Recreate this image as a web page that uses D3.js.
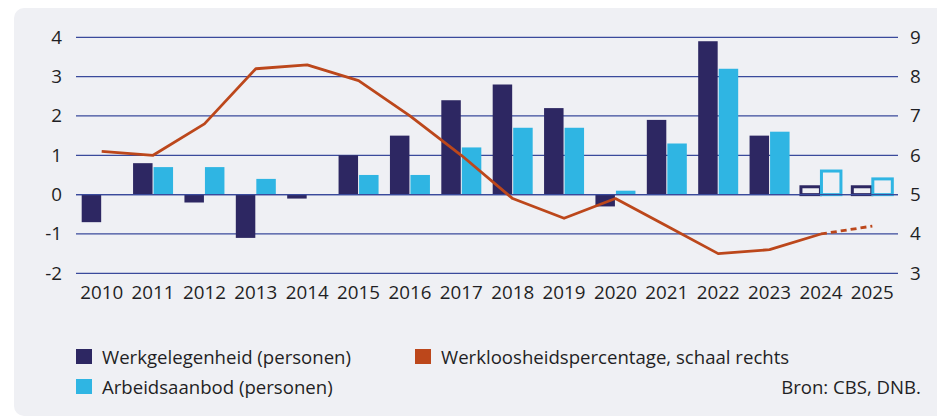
<!DOCTYPE html>
<html>
<head>
<meta charset="utf-8">
<script src="https://cdn.jsdelivr.net/npm/d3@7"></script>
<style>
  html, body { margin: 0; padding: 0; background: #ffffff; }
  svg { display: block; }
  text { font-family: "Open Sans", "Noto Sans", sans-serif; fill: #1f1f24; }
</style>
</head>
<body>
<svg id="chart"></svg>
<script>
// data
const years = ["2010", "2011", "2012", "2013", "2014", "2015", "2016", "2017",
  "2018", "2019", "2020", "2021", "2022", "2023", "2024", "2025"];
const werkgelegenheid = [-0.7, 0.8, -0.2, -1.1, -0.1, 1.0, 1.5, 2.4,
  2.8, 2.2, -0.3, 1.9, 3.9, 1.5, 0.2, 0.2];
const arbeidsaanbod = [0, 0.7, 0.7, 0.4, 0, 0.5, 0.5, 1.2,
  1.7, 1.7, 0.1, 1.3, 3.2, 1.6, 0.6, 0.4];
const werkloosheid = [6.1, 6.0, 6.8, 8.2, 8.3, 7.9, 7.0, 6.0,
  4.9, 4.4, 4.9, 4.2, 3.5, 3.6, 4.0, 4.2];
const forecastYears = ["2024", "2025"];
const leftTicks = [-2, -1, 0, 1, 2, 3, 4];
const rightTicks = [3, 4, 5, 6, 7, 8, 9];

const width = 937, height = 418;
const colDark = "#2d2762", colLight = "#2fb5e3", colLine = "#bc471b";
const colGrid = "#3a4a9b";
const font = "'Open Sans', 'Noto Sans', sans-serif";

const svg = d3.select("#chart").attr("width", width).attr("height", height);

// panel background
svg.append("rect")
  .attr("x", 14).attr("y", 8)
  .attr("width", 940).attr("height", 408)
  .attr("rx", 10)
  .attr("fill", "#eff0f4");

const x = d3.scaleBand().domain(years).range([76, 898]).padding(0);
const xInner = d3.scaleBand()
  .domain(["werk", "aanbod"])
  .range([x.bandwidth() / 2 - 20, x.bandwidth() / 2 + 20])
  .paddingInner(0.05);

const y = d3.scaleLinear().domain([-2, 4]).range([273.3, 37.3]);
const yRight = d3.scaleLinear().domain([3, 9]).range([273.3, 37.3]);

// gridlines
svg.append("g")
  .selectAll("line")
  .data(leftTicks)
  .join("line")
  .attr("x1", 76).attr("x2", 898)
  .attr("y1", (d) => y(d)).attr("y2", (d) => y(d))
  .attr("stroke", colGrid)
  .attr("stroke-width", 1.3);

function styleAxis(g) {
  g.select(".domain").remove();
  g.selectAll("text")
    .attr("font-size", 18.8)
    .attr("font-family", font)
    .attr("fill", "#1f1f24");
}

// left axis
svg.append("g")
  .attr("transform", "translate(62,0)")
  .call(d3.axisLeft(y).tickValues(leftTicks).tickSize(0).tickPadding(0)
    .tickFormat((d) => String(d)))
  .call(styleAxis);

// right axis
svg.append("g")
  .attr("transform", "translate(910,0)")
  .call(d3.axisRight(yRight).tickValues(rightTicks).tickSize(0).tickPadding(0)
    .tickFormat(d3.format("d")))
  .call(styleAxis);

// bottom axis (year labels)
svg.append("g")
  .attr("transform", "translate(0,286)")
  .call(d3.axisBottom(x).tickSize(0).tickPadding(0))
  .call(styleAxis);

// bars
const barData = [];
years.forEach((yr, i) => {
  barData.push({ year: yr, key: "werk", value: werkgelegenheid[i], color: colDark });
  barData.push({ year: yr, key: "aanbod", value: arbeidsaanbod[i], color: colLight });
});

const isForecast = (d) => forecastYears.includes(d.year);

svg.append("g")
  .selectAll("rect")
  .data(barData.filter((d) => d.value !== 0))
  .join("rect")
  .attr("x", (d) => x(d.year) + xInner(d.key))
  .attr("y", (d) => y(Math.max(0, d.value)))
  .attr("width", xInner.bandwidth())
  .attr("height", (d) => Math.abs(y(d.value) - y(0)))
  .attr("fill", (d) => (isForecast(d) ? "#eff0f4" : d.color))
  .attr("stroke", (d) => (isForecast(d) ? d.color : "none"))
  .attr("stroke-width", 3);

// redraw zero line over bars
svg.append("line")
  .attr("x1", 76).attr("x2", 898)
  .attr("y1", y(0)).attr("y2", y(0))
  .attr("stroke", colGrid)
  .attr("stroke-width", 1.3);

// unemployment line
const linePts = years.map((yr, i) => ({ year: yr, value: werkloosheid[i] }));
const line = d3.line()
  .x((d) => x(d.year) + x.bandwidth() / 2)
  .y((d) => yRight(d.value));

const firstForecast = years.indexOf(forecastYears[0]);
svg.append("path")
  .datum(linePts.slice(0, firstForecast + 1))
  .attr("d", line)
  .attr("fill", "none")
  .attr("stroke", colLine)
  .attr("stroke-width", 2.8)
  .attr("stroke-linejoin", "round");

svg.append("path")
  .datum(linePts.slice(firstForecast))
  .attr("d", line)
  .attr("fill", "none")
  .attr("stroke", colLine)
  .attr("stroke-width", 2.8)
  .attr("stroke-dasharray", "6,4");

// legend
const legendItems = [
  { label: "Werkgelegenheid (personen)", color: colDark, x: 76, y: 349 },
  { label: "Arbeidsaanbod (personen)", color: colLight, x: 76, y: 379 },
  { label: "Werkloosheidspercentage, schaal rechts", color: colLine, x: 415, y: 349 }
];

const legend = svg.append("g")
  .selectAll("g")
  .data(legendItems)
  .join("g")
  .attr("transform", (d) => `translate(${d.x},${d.y})`);

legend.append("rect")
  .attr("width", 16).attr("height", 15)
  .attr("fill", (d) => d.color);

legend.append("text")
  .attr("x", 26).attr("y", 14.5)
  .attr("font-size", 18.6)
  .text((d) => d.label);

svg.append("text")
  .attr("x", 921).attr("y", 393.5)
  .attr("text-anchor", "end")
  .attr("font-size", 18.6)
  .text("Bron: CBS, DNB.");
</script>
</body>
</html>
